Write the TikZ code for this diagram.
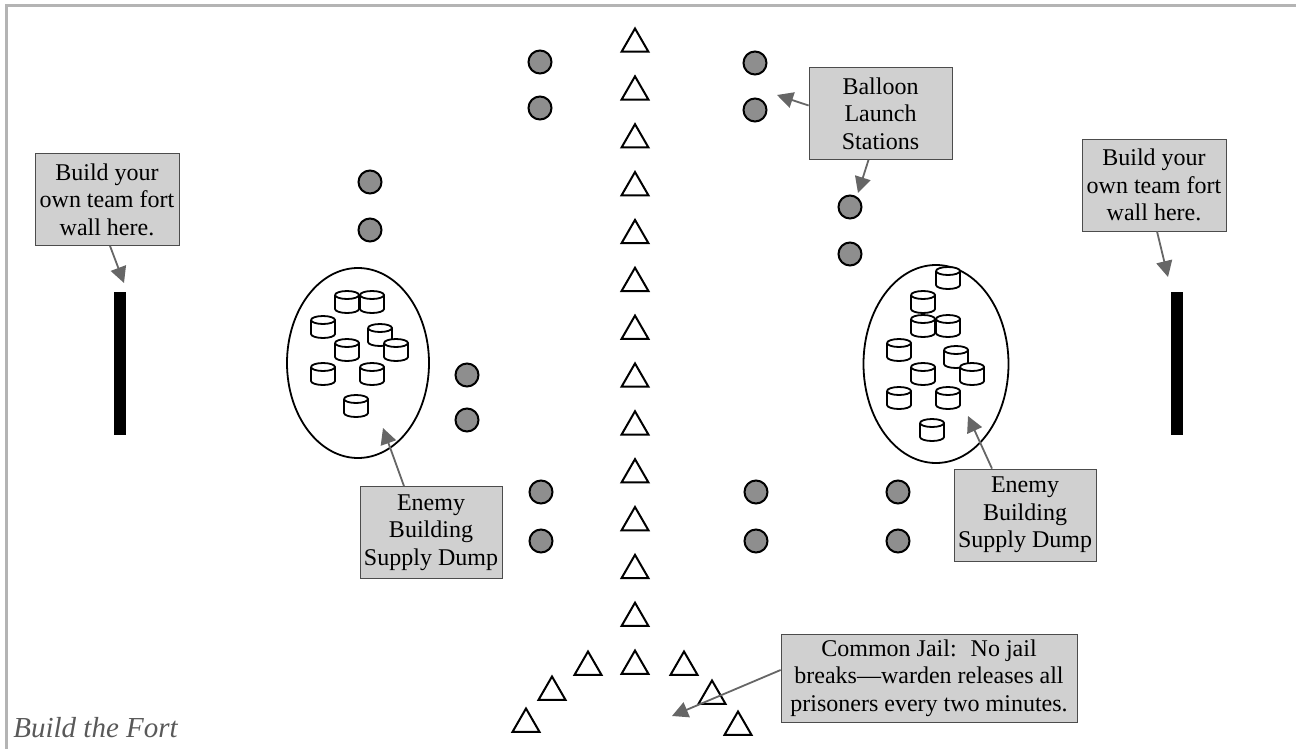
\documentclass[tikz,border=0pt]{standalone}
\usepackage{fontspec}
\setmainfont{Liberation Serif}
\usetikzlibrary{shapes.geometric, arrows.meta}

\definecolor{boxgray}{HTML}{D0D0D0}
\definecolor{dotgray}{HTML}{8E8E8E}
\definecolor{arrowgray}{HTML}{666666}
\definecolor{framegray}{HTML}{B4B4B4}

\tikzset{
  cone/.style={regular polygon, regular polygon sides=3, draw, line width=1pt,
    minimum size=15.5pt, inner sep=0pt},
  station/.style={circle, draw, fill=dotgray, line width=1pt, minimum size=11.5pt, inner sep=0pt},
  dump/.style={ellipse, draw, line width=0.9pt, inner sep=0pt},
  wall/.style={fill=black, minimum width=6pt, minimum height=71.5pt, inner sep=0pt},
  note/.style={draw=black!70, fill=boxgray, align=center, inner sep=0pt,
    minimum width=72pt, minimum height=46pt, font=\fontsize{12}{13.8}\selectfont},
  pointer/.style={draw=arrowgray, line width=0.9pt, -{Triangle[length=8pt,width=8pt]}},
  drum/.pic={
    \draw[line width=0.9pt, fill=white] (-12,-7) -- (-12,7)
      arc[start angle=180, end angle=0, x radius=12, y radius=4] -- (12,-7)
      arc[start angle=0, end angle=-180, x radius=12, y radius=4];
    \draw[line width=0.9pt] (-12,-7) arc[start angle=180, end angle=0, x radius=12, y radius=4];
  }
}

\begin{document}
\begin{tikzpicture}[x=0.5pt, y=-0.5pt]
\useasboundingbox (0,0) rectangle (1296,749);

% frame
\draw[framegray, line width=1.5pt] (6,749) -- (6,6) -- (1296,6);

% middle line of cones
\foreach \i in {0,...,13}
    \node[cone] (cone\i) at (635,{44+47.85*\i}) {};
\foreach \x/\y [count=\i] in {588/667, 684/667, 552/692, 712/696, 526/724, 738/727}
    \node[cone] (jail\i) at (\x,\y) {};

% balloon stations
\foreach \x/\y [count=\i] in {540/62, 540/108, 755/63, 755/110, 370/182, 370/230,
    850/207, 850/254, 467/375, 467/420, 541/492, 541/541, 756/492, 756/541,
    898/492, 898/541}
    \node[station] (st\i) at (\x,\y) {};

% supply dumps
\node[dump, minimum width=71pt, minimum height=95pt] (dumpL) at (358,363) {};
\node[dump, minimum width=72.5pt, minimum height=99pt] (dumpR) at (936,364) {};
\foreach \x/\y in {347/302, 372/302, 323/327, 380/335, 347/350, 396/350,
    323/374, 372/374, 356/406}
    \pic at (\x,\y) {drum};
\foreach \x/\y in {948/278, 923/302, 923/326, 948/326, 899/350, 956/357,
    923/374, 972/374, 899/398, 948/398, 932/430}
    \pic at (\x,\y) {drum};

% fort walls
\node[wall] (wallL) at (120,363.5) {};
\node[wall] (wallR) at (1176.5,363.5) {};

% labels
\node[note] (lblFL) at (107,199.5) {Build your\\own team fort\\wall here.};
\node[note] (lblFR) at (1154,185) {Build your\\own team fort\\wall here.};
\node[note, minimum width=71.5pt] (lblB) at (880.5,113.5) {Balloon\\Launch\\Stations};
\node[note, minimum width=71pt] (lblEL) at (431,532.5) {Enemy\\Building\\Supply Dump};
\node[note, minimum width=71pt] (lblER) at (1025,515) {Enemy\\Building\\Supply Dump};
\node[note, minimum width=148pt, minimum height=44pt] (lblJ) at (929,678)
    {Common Jail:~ No jail\\breaks---warden releases all\\prisoners every two minutes.};

% arrows
\coordinate (tipFL) at (124,283);
\coordinate (tipFR) at (1168,277);
\coordinate (tipB1) at (777,95);
\coordinate (tipB2) at (858,193);
\coordinate (tipEL) at (383,428);
\coordinate (tipER) at (968,416);
\coordinate (tipJ) at (672,716);
\draw[pointer] ([xshift=1.5pt]lblFL.south) -- (tipFL);
\draw[pointer] ([xshift=1.5pt]lblFR.south) -- (tipFR);
\draw[pointer] ([yshift=4pt]lblB.west) -- (tipB1);
\draw[pointer] ([xshift=-6pt]lblB.south) -- (tipB2);
\draw[pointer] ([xshift=-13.5pt]lblEL.north) -- (tipEL);
\draw[pointer] ([xshift=-16.5pt]lblER.north) -- (tipER);
\draw[pointer] ([yshift=4pt]lblJ.west) -- (tipJ);

% caption
\node[anchor=base west, inner sep=0pt, text=black!65,
    font=\fontsize{14.5}{17}\selectfont\itshape] (caption) at (13,737) {Build the Fort};
\end{tikzpicture}
\end{document}
